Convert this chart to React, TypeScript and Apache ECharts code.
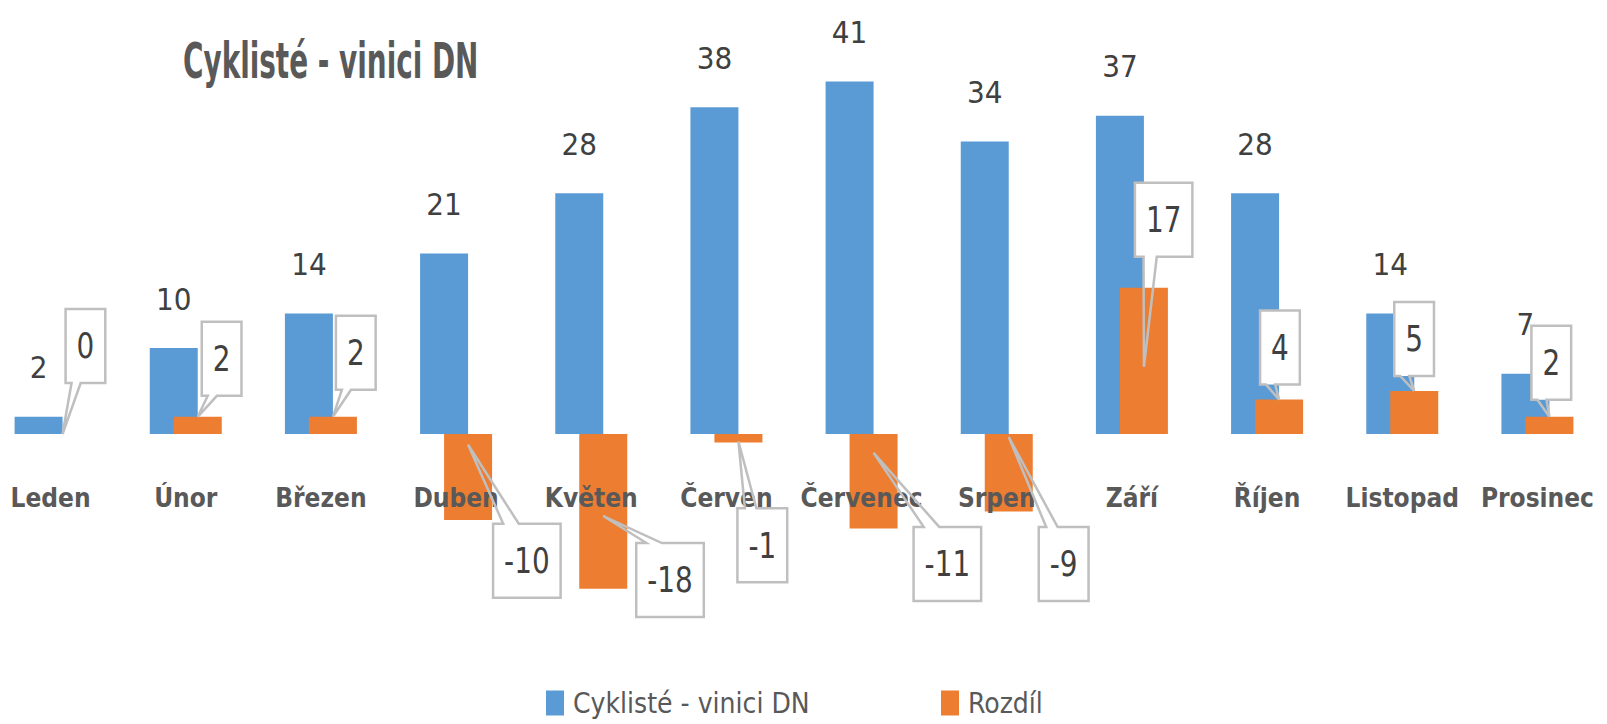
import React, { useEffect, useRef } from "react";
import * as echarts from "echarts";

const categories = ["Leden", "Únor", "Březen", "Duben", "Květen", "Červen", "Červenec", "Srpen", "Září", "Říjen", "Listopad", "Prosinec"];
const cyclists = [2, 10, 14, 21, 28, 38, 41, 34, 37, 28, 14, 7];
const rozdil = [0, 2, 2, -10, -18, -1, -11, -9, 17, 4, 5, 2];

const SERIES_A = "Cyklisté - vinici DN";
const SERIES_B = "Rozdíl";
const TITLE = "Cyklisté - vinici DN";

// callout label layout (tip position along bar, box offset from tip)
const calloutLayout = [
  { frac: 1, dx: 3, dy: -51 },
  { frac: 1, dx: 4, dy: -21 },
  { frac: 1, dx: 3, dy: -27 },
  { frac: 0.125, dx: 25, dy: 79 },
  { frac: 0.53, dx: 33, dy: 27 },
  { frac: 0.85, dx: -1, dy: 67 },
  { frac: 0.2, dx: 40, dy: 74 },
  { frac: 0.04, dx: 30, dy: 90 },
  { frac: 0.46, dx: -9, dy: -110 },
  { frac: 1, dx: -19, dy: -15 },
  { frac: 1, dx: -20, dy: -15 },
  { frac: 1, dx: -18, dy: -17 },
];

const FONT = '"DejaVu Sans Condensed", "Liberation Sans Narrow", sans-serif';
const BLUE = "#5B9BD5";
const ORANGE = "#ED7D31";
const BAR_W = 48;
const VAL_FONT = 31;

function textWidth(s: string) {
  let w = 0;
  for (const ch of s) w += ch === "-" ? 0.325 : 0.572;
  return w * VAL_FONT;
}

export default function App() {
  const ref = useRef<HTMLDivElement>(null);
  useEffect(() => {
    document.body.style.margin = "0";
    if (!ref.current) return;
    const chart = echarts.init(ref.current, undefined, { renderer: "svg" });
    const legendBase = {
      top: 689,
      padding: 0,
      icon: "rect",
      itemWidth: 18,
      itemHeight: 25,
      textStyle: { fontSize: 28, lineHeight: 28, fontFamily: FONT, color: "#595959", padding: [0, 0, 0, 4] },
    };
    const option: any = {
      animation: false,
      backgroundColor: "#ffffff",
      grid: { left: -17, width: 1622, top: 47, height: 559, containLabel: false, outerBoundsMode: "none" },
      graphic: [
        {
          type: "text",
          x: 183,
          y: 61,
          scaleY: 1.6,
          style: {
            text: TITLE,
            font: `bold 31px ${FONT}`,
            fill: "#595959",
            verticalAlign: "middle",
            align: "left",
          },
        },
      ],
      legend: [
        { ...legendBase, data: [SERIES_A], left: 546 },
        { ...legendBase, data: [SERIES_B], left: 941 },
      ],
      xAxis: {
        type: "category",
        data: categories,
        z: 5,
        axisLine: { show: false, onZero: false },
        axisTick: { show: false },
        axisLabel: {
          interval: 0,
          margin: -121,
          fontSize: 26,
          fontWeight: "bold",
          fontFamily: FONT,
          color: "#595959",
        },
      },
      yAxis: { type: "value", min: -20, max: 45, show: false },
      series: [
        {
          name: SERIES_A,
          type: "bar",
          data: cyclists,
          barWidth: BAR_W,
          barGap: "-50%",
          itemStyle: { color: BLUE },
          label: {
            show: true,
            position: "top",
            distance: 34,
            fontSize: VAL_FONT,
            fontFamily: FONT,
            color: "#404040",
          },
        },
        {
          name: SERIES_B,
          type: "bar",
          data: rozdil,
          barWidth: BAR_W,
          barGap: "-50%",
          itemStyle: { color: ORANGE },
        },
        {
          name: "callouts",
          type: "custom",
          z: 20,
          clip: false,
          silent: true,
          data: rozdil.map((v, i) => [i, v]),
          encode: { x: 0, y: 1 },
          renderItem: (params: any, api: any) => {
            const i = api.value(0);
            const v = api.value(1);
            const lay = calloutLayout[params.dataIndex];
            const base = api.coord([i, 0]);
            const end = api.coord([i, v]);
            const tipX = base[0] + BAR_W / 4;
            const tipY = base[1] + (end[1] - base[1]) * lay.frac;
            const txt = String(v);
            const w = textWidth(txt) + 22;
            const h = 74;
            const L = tipX + lay.dx;
            const R = L + w;
            let T: number, B: number, pts: number[][];
            const a = L + 0.15 * w;
            const b = L + 0.38 * w;
            if (v >= 0) {
              B = tipY + lay.dy;
              T = B - h;
              pts = [[L, T], [R, T], [R, B], [b, B], [tipX, tipY], [a, B], [L, B]];
            } else {
              T = tipY + lay.dy;
              B = T + h;
              pts = [[L, T], [a, T], [tipX, tipY], [b, T], [R, T], [R, B], [L, B]];
            }
            return {
              type: "group",
              children: [
                {
                  type: "rect",
                  shape: { x: L, y: T, width: w, height: h },
                  style: { fill: "#ffffff" },
                },
                {
                  type: "polygon",
                  shape: { points: pts },
                  style: { fill: "none", stroke: "#BFBFBF", lineWidth: 2.5, lineJoin: "miter" },
                },
                {
                  type: "text",
                  x: (L + R) / 2,
                  y: (T + B) / 2,
                  scaleY: 1.15,
                  style: {
                    text: txt,
                    x: 0,
                    y: 0,
                    align: "center",
                    verticalAlign: "middle",
                    font: `${VAL_FONT}px ${FONT}`,
                    fill: "#404040",
                  },
                },
              ],
            };
          },
        },
      ],
    };
    chart.setOption(option);
    return () => chart.dispose();
  }, []);
  return <div ref={ref} style={{ width: 1607, height: 724 }} />;
}
